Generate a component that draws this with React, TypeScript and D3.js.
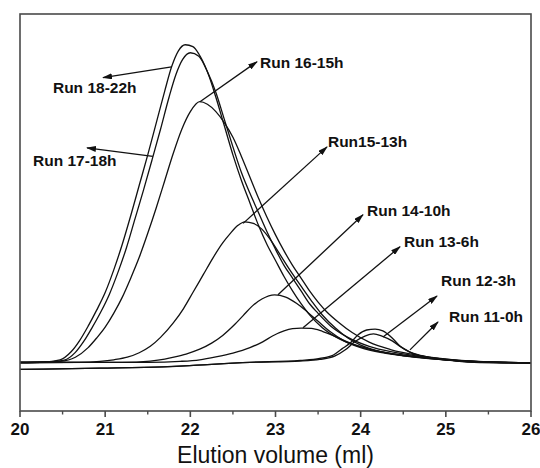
import React from 'react';
import * as d3 from 'd3';

type Pt = [number, number];

// elution volume (ml), signal (arbitrary units, baseline = 0)
const run18: Pt[] = [
  [20.0, 0.15], [20.25, 0.3], [20.47, 1.0], [20.6, 3.5], [20.7, 7.0], [20.8, 11.5],
  [20.9, 16.5], [21.0, 22.0], [21.1, 29.0], [21.2, 37.0], [21.3, 46.0], [21.4, 55.5],
  [21.5, 65.0], [21.6, 75.0], [21.7, 85.0], [21.78, 92.5], [21.86, 97.5], [21.94, 99.4],
  [22.03, 98.8], [22.1, 96.5], [22.2, 91.0], [22.3, 83.0], [22.4, 74.0], [22.5, 65.0],
  [22.6, 57.0], [22.7, 50.0], [22.8, 43.0], [22.9, 37.0], [23.0, 32.0], [23.1, 27.0],
  [23.2, 22.5], [23.3, 18.5], [23.4, 15.0], [23.55, 11.0], [23.75, 7.5], [24.0, 5.0],
  [24.3, 3.2], [24.7, 1.8], [25.1, 0.8], [25.5, 0.3], [26.0, 0.05],
];
const run17: Pt[] = [
  [20.0, 0.15], [20.3, 0.3], [20.52, 0.9], [20.65, 3.3], [20.75, 6.8], [20.85, 11.2],
  [20.95, 16.0], [21.05, 21.5], [21.15, 28.3], [21.25, 36.0], [21.35, 45.0], [21.45, 54.0],
  [21.55, 63.4], [21.65, 73.0], [21.75, 83.0], [21.83, 90.0], [21.91, 94.8], [22.0, 96.9],
  [22.1, 95.8], [22.2, 91.0], [22.3, 84.5], [22.4, 76.0], [22.5, 67.5], [22.6, 59.5],
  [22.7, 53.0], [22.8, 47.0], [22.9, 41.0], [23.0, 35.5], [23.1, 30.5], [23.2, 26.5],
  [23.3, 22.5], [23.4, 18.5], [23.5, 15.5], [23.65, 11.5], [23.85, 8.0], [24.1, 5.2],
  [24.4, 3.3], [24.75, 1.9], [25.15, 0.8], [25.55, 0.3], [26.0, 0.05],
];
const run16: Pt[] = [
  [20.0, 0.15], [20.3, 0.3], [20.47, 0.5], [20.65, 1.8], [20.8, 4.8], [20.9, 7.8],
  [21.0, 11.2], [21.1, 15.5], [21.2, 20.5], [21.3, 26.5], [21.4, 33.0], [21.5, 40.5],
  [21.6, 48.5], [21.7, 57.0], [21.8, 65.5], [21.9, 73.0], [22.0, 78.5], [22.11, 81.6],
  [22.2, 80.8], [22.3, 78.5], [22.4, 75.0], [22.5, 70.5], [22.6, 64.5], [22.7, 58.0],
  [22.8, 51.5], [22.9, 45.5], [23.0, 40.0], [23.1, 35.0], [23.2, 30.5], [23.3, 26.5],
  [23.4, 22.5], [23.5, 19.0], [23.6, 16.0], [23.75, 12.5], [23.9, 9.5], [24.1, 6.5],
  [24.35, 4.2], [24.7, 2.3], [25.1, 1.0], [25.5, 0.35], [26.0, 0.05],
];
const run15: Pt[] = [
  [20.0, 0.15], [20.7, 0.2], [20.94, 0.5], [21.1, 1.0], [21.26, 1.8], [21.4, 3.2],
  [21.53, 5.2], [21.65, 8.0], [21.8, 12.5], [21.92, 17.0], [22.03, 22.0], [22.15, 27.5],
  [22.27, 33.0], [22.38, 37.5], [22.47, 40.5], [22.56, 43.0], [22.64, 44.1], [22.74, 43.6],
  [22.84, 41.8], [22.94, 38.5], [23.05, 34.0], [23.17, 29.0], [23.3, 24.0], [23.42, 19.5],
  [23.55, 15.0], [23.7, 11.0], [23.85, 7.8], [24.0, 5.6], [24.2, 3.8], [24.45, 2.5],
  [24.77, 1.5], [25.17, 0.6], [25.64, 0.15], [26.0, 0.05],
];
const run14: Pt[] = [
  [20.0, 0.15], [21.2, 0.2], [21.53, 0.6], [21.7, 1.2], [21.82, 1.9], [21.95, 2.8],
  [22.11, 4.3], [22.25, 6.2], [22.38, 8.6], [22.52, 12.0], [22.62, 14.8], [22.72, 17.6],
  [22.84, 20.0], [22.99, 21.3], [23.12, 20.6], [23.25, 18.6], [23.38, 15.8], [23.5, 13.0],
  [23.64, 9.8], [23.8, 7.0], [24.0, 4.8], [24.25, 3.2], [24.55, 2.1], [24.9, 1.2],
  [25.3, 0.5], [25.7, 0.15], [26.0, 0.05],
];
const run13: Pt[] = [
  [20.0, 0.15], [21.5, 0.2], [21.88, 0.5], [22.11, 1.0], [22.3, 1.9], [22.5, 3.1],
  [22.7, 4.8], [22.85, 6.6], [22.97, 8.5], [23.1, 10.0], [23.2, 10.7], [23.3, 10.9],
  [23.42, 10.8], [23.55, 9.9], [23.7, 8.3], [23.88, 6.2], [24.1, 4.3], [24.4, 2.7],
  [24.75, 1.6], [25.15, 0.7], [25.6, 0.2], [26.0, 0.05],
];
const run12: Pt[] = [
  [20.0, -2.0], [20.94, -1.6], [21.68, -1.2], [22.7, 0.2], [23.29, 0.8], [23.52, 1.4],
  [23.68, 2.5], [23.78, 4.4], [23.88, 6.3], [23.97, 8.8], [24.07, 10.3], [24.17, 10.6],
  [24.26, 10.0], [24.37, 7.8], [24.46, 5.3], [24.58, 3.4], [24.73, 2.2], [25.05, 0.9],
  [25.4, 0.2], [26.0, 0.05],
];
const run11: Pt[] = [
  [20.0, -2.0], [20.94, -1.6], [21.68, -1.2], [22.7, 0.2], [23.29, 0.6], [23.52, 1.1],
  [23.7, 2.2], [23.82, 4.1], [23.93, 6.6], [24.05, 8.4], [24.15, 9.1], [24.25, 8.4],
  [24.37, 6.9], [24.49, 4.7], [24.6, 3.1], [24.76, 1.9], [25.05, 0.8], [25.4, 0.1],
  [26.0, 0.05],
];

const runs: Pt[][] = [run18, run17, run16, run15, run14, run13, run12, run11];

// label text, label anchor, arrow tail (on curve), arrow head — data units
const labels = ['Run 18-22h', 'Run 17-18h', 'Run 16-15h', 'Run15-13h', 'Run 14-10h', 'Run 13-6h', 'Run 12-3h', 'Run 11-0h'];
const labelPos: Pt[] = [
  [20.387, 84.4], [20.153, 61.6], [22.818, 92.2], [23.616, 67.5],
  [24.074, 45.9], [24.509, 36.3], [24.943, 24.1], [25.037, 12.8],
];
const arrowFrom: Pt[] = [
  [21.78, 92.5], [21.56, 64.5], [22.113, 81.6], [22.62, 43.6],
  [23.029, 21.3], [23.323, 11.0], [24.262, 8.1], [24.579, 4.1],
];
const arrowTo: Pt[] = [
  [20.975, 89.1], [20.787, 67.2], [22.783, 94.1], [23.605, 67.5],
  [24.027, 46.3], [24.462, 36.3], [24.896, 20.9], [24.908, 12.8],
];

const xTicks = [20, 21, 22, 23, 24, 25, 26];
const xMinorTicks = [20.5, 21.5, 22.5, 23.5, 24.5, 25.5];

const W = 540;
const H = 468;
const left = 20;
const right = 531;
const top = 14;
const bottom = 411;

export default function App() {
  const x = d3.scaleLinear().domain([20, 26]).range([left, right]);
  const y = d3.scaleLinear().domain([-15, 109]).range([bottom, top]);
  const line = d3
    .line<Pt>()
    .x((d) => x(d[0]))
    .y((d) => y(d[1]))
    .curve(d3.curveMonotoneX);

  const font = 'Arial, "Liberation Sans", sans-serif';

  return (
    <svg
      width={W}
      height={H}
      style={{ position: 'absolute', left: 0, top: 0, background: '#fff' }}
    >
      <defs>
        <marker
          id="ah"
          viewBox="0 0 10 6"
          refX="9"
          refY="3"
          markerWidth="10"
          markerHeight="6"
          markerUnits="userSpaceOnUse"
          orient="auto"
        >
          <path d="M0,0 L10,3 L0,6 z" fill="#111" />
        </marker>
      </defs>

      {runs.map((r, i) => (
        <path key={i} d={line(r) || ''} fill="none" stroke="#111" strokeWidth={1.3} />
      ))}

      {labels.map((t, i) => (
        <g key={t}>
          <line
            x1={x(arrowFrom[i][0])}
            y1={y(arrowFrom[i][1])}
            x2={x(arrowTo[i][0])}
            y2={y(arrowTo[i][1])}
            stroke="#111"
            strokeWidth={1.3}
            markerEnd="url(#ah)"
          />
          <text
            x={x(labelPos[i][0])}
            y={y(labelPos[i][1])}
            fontFamily={font}
            fontWeight="bold"
            fontSize={15.5}
            fill="#111"
          >
            {t}
          </text>
        </g>
      ))}

      <rect
        x={left}
        y={top}
        width={right - left}
        height={bottom - top}
        fill="none"
        stroke="#4a4a4a"
        strokeWidth={1.6}
      />

      {xTicks.map((t) => (
        <g key={t}>
          <line x1={x(t)} x2={x(t)} y1={bottom} y2={bottom + 6} stroke="#4a4a4a" strokeWidth={1.6} />
          <text
            x={x(t)}
            y={bottom + 24}
            textAnchor="middle"
            fontFamily={font}
            fontWeight="bold"
            fontSize={17}
            fill="#111"
          >
            {t}
          </text>
        </g>
      ))}
      {xMinorTicks.map((t) => (
        <line key={t} x1={x(t)} x2={x(t)} y1={bottom} y2={bottom + 3.5} stroke="#4a4a4a" strokeWidth={1.4} />
      ))}

      <text
        x={(left + right) / 2}
        y={463}
        textAnchor="middle"
        fontFamily={font}
        fontSize={23}
        fill="#111"
      >
        Elution volume (ml)
      </text>
    </svg>
  );
}
